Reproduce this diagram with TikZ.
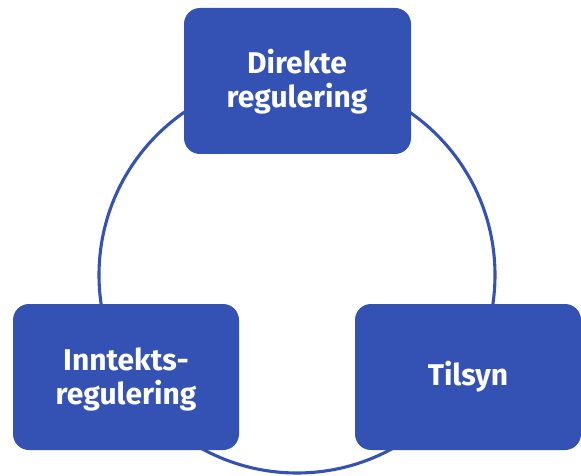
\documentclass[tikz,border=0pt]{standalone}
\usepackage{fontspec}
\setmainfont{Fira Sans}
\definecolor{boxblue}{HTML}{3452B4}
\begin{document}
\begin{tikzpicture}[x=1pt,y=-1pt,
  blbox/.style={fill=boxblue, rounded corners=16pt, draw=none},
  lbl/.style={text=white, font=\fontsize{30}{34}\selectfont\bfseries, align=center}]
\useasboundingbox (0,0) rectangle (581,476);
\coordinate (c) at (297,275);
\draw[boxblue, line width=3.1pt] (c) circle[radius=198];
\fill[blbox] (184,8) rectangle (411,154);
\fill[blbox] (13,304) rectangle (239,450);
\fill[blbox] (355,304) rectangle (581,450);
\node[lbl] (direkte) at (297,82) {Direkte\\regulering};
\node[lbl] (inntekt) at (126,379) {Inntekts-\\regulering};
\node[lbl] (tilsyn) at (468,377) {Tilsyn};
\end{tikzpicture}
\end{document}
